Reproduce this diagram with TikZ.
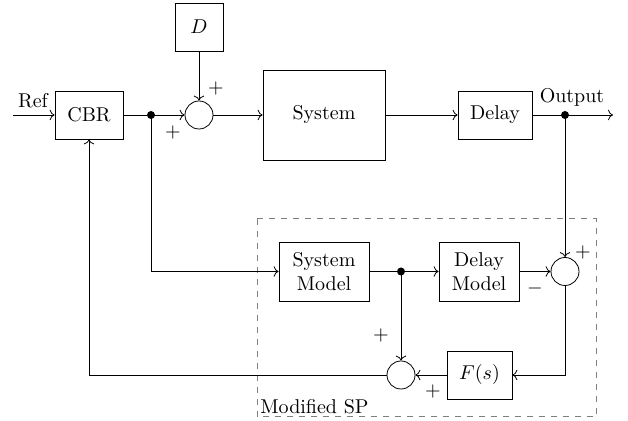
\documentclass[tikz,border=0pt]{standalone}
\usetikzlibrary{arrows.meta}
\begin{document}
\begin{tikzpicture}[x=0.5pt,y=-0.5pt,
  blk/.style={draw,rectangle,inner sep=1pt,align=center},
  sumc/.style={draw,circle,minimum size=14pt,inner sep=0pt},
  dotc/.style={circle,fill=black,minimum size=4pt,inner sep=0pt},
  sgn/.style={inner sep=0pt},
  conn/.style={->,line width=0.4pt},
  every node/.style={font=\normalsize}]
\useasboundingbox (0,0) rectangle (628,421);
% dashed region
\draw[gray,dashed,line width=0.5pt] (257,219) rectangle (596,417);
\node[anchor=south west,inner sep=1.5pt] (msp) at (257,417) {Modified SP};
% blocks
\node[blk,minimum width=34pt,minimum height=24pt] (cbr) at (89,115) {CBR};
\node[blk,minimum width=24pt,minimum height=24pt] (D) at (199,27) {$D$};
\node[sumc] (s1) at (199,115) {};
\node[blk,minimum width=61pt,minimum height=45pt] (sys) at (324,115) {System};
\node[blk,minimum width=37pt,minimum height=24pt] (dl) at (495,115) {Delay};
\node[dotc] (d1) at (151,115) {};
\node[dotc] (d2) at (565,115) {};
\coordinate (in) at (13,115);
\coordinate (out) at (613,115);
\node[blk,minimum width=45pt,minimum height=29.5pt] (sm) at (324,271.5) {System\\Model};
\node[dotc] (d3) at (401,271.5) {};
\node[blk,minimum width=40pt,minimum height=29.5pt] (dm) at (479,271.5) {Delay\\Model};
\node[sumc] (s2) at (565,271.5) {};
\node[blk,minimum width=32.5pt,minimum height=24pt] (fs) at (479.5,375) {$F(s)$};
\node[sumc] (s3) at (401,375) {};
% labels
\node (ref) at (33,101) {Ref};
\node (outl) at (572,97) {Output};
\node[sgn] (p1) at (216,89) {$+$};
\node[sgn] (p2) at (173,133) {$+$};
\node[sgn] (p3) at (583,253) {$+$};
\node[sgn] (m1) at (535,289) {$-$};
\node[sgn] (p4) at (381,336) {$+$};
\node[sgn] (p5) at (433,392) {$+$};
% connectors
\draw[conn] (in) -- (cbr.west);
\draw[conn] (cbr.east) -- (s1.west);
\draw[conn] (D.south) -- (s1.north);
\draw[conn] (s1.east) -- (sys.west);
\draw[conn] (sys.east) -- (dl.west);
\draw[conn] (dl.east) -- (out);
\draw[conn] (d2.center) -- (s2.north);
\draw[conn] (d1.center) |- (sm.west);
\draw[conn] (sm.east) -- (dm.west);
\draw[conn] (d3.center) -- (s3.north);
\draw[conn] (dm.east) -- (s2.west);
\draw[conn] (s2.south) |- (fs.east);
\draw[conn] (fs.west) -- (s3.east);
\draw[conn] (s3.west) -| (cbr.south);
\end{tikzpicture}
\end{document}
